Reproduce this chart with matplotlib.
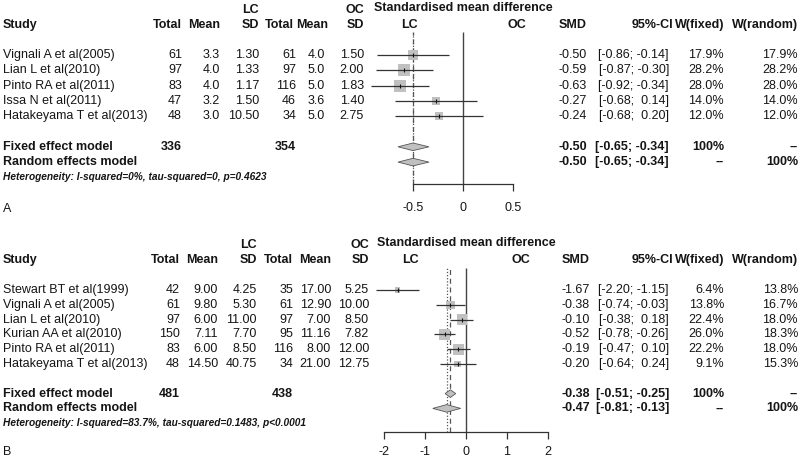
import numpy as np
import matplotlib
matplotlib.use("Agg")
import matplotlib.pyplot as plt

plt.rcParams["font.family"] = ["Liberation Sans", "DejaVu Sans"]

W, H = 800, 459
INK = "#151515"
GREY = "#c0c0c0"

# ---- panel A
a_study = ["Vignali A et al(2005)", "Lian L et al(2010)", "Pinto RA et al(2011)",
           "Issa N et al(2011)", "Hatakeyama T et al(2013)"]
a_lc_n = [61, 97, 83, 47, 48]
a_lc_mean = [3.3, 4.0, 4.0, 3.2, 3.0]
a_lc_sd = [1.30, 1.33, 1.17, 1.50, 10.50]
a_oc_n = [61, 97, 116, 46, 34]
a_oc_mean = [4.0, 5.0, 5.0, 3.6, 5.0]
a_oc_sd = [1.50, 2.00, 1.83, 1.40, 2.75]
a_smd = [-0.50, -0.59, -0.63, -0.27, -0.24]
a_lo = [-0.86, -0.87, -0.92, -0.68, -0.68]
a_hi = [-0.14, -0.30, -0.34, 0.14, 0.20]
a_wfix = [17.9, 28.2, 28.0, 14.0, 12.0]
a_wran = [17.9, 28.2, 28.0, 14.0, 12.0]
a_totals = [336, 354]
a_fixed = [-0.50, -0.65, -0.34]
a_random = [-0.50, -0.65, -0.34]
a_ticks = [-0.5, 0, 0.5]
a_het = "Heterogeneity: I-squared=0%, tau-squared=0, p=0.4623"

# ---- panel B
b_study = ["Stewart BT et al(1999)", "Vignali A et al(2005)", "Lian L et al(2010)",
           "Kurian AA et al(2010)", "Pinto RA et al(2011)", "Hatakeyama T et al(2013)"]
b_lc_n = [42, 61, 97, 150, 83, 48]
b_lc_mean = [9.00, 9.80, 6.00, 7.11, 6.00, 14.50]
b_lc_sd = [4.25, 5.30, 11.00, 7.70, 8.50, 40.75]
b_oc_n = [35, 61, 97, 95, 116, 34]
b_oc_mean = [17.00, 12.90, 7.00, 11.16, 8.00, 21.00]
b_oc_sd = [5.25, 10.00, 8.50, 7.82, 12.00, 12.75]
b_smd = [-1.67, -0.38, -0.10, -0.52, -0.19, -0.20]
b_lo = [-2.20, -0.74, -0.38, -0.78, -0.47, -0.64]
b_hi = [-1.15, -0.03, 0.18, -0.26, 0.10, 0.24]
b_wfix = [6.4, 13.8, 22.4, 26.0, 22.2, 9.1]
b_wran = [13.8, 16.7, 18.0, 18.3, 18.0, 15.3]
b_totals = [481, 438]
b_fixed = [-0.38, -0.51, -0.25]
b_random = [-0.47, -0.81, -0.13]
b_ticks = [-2, -1, 0, 1, 2]
b_het = "Heterogeneity: I-squared=83.7%, tau-squared=0.1483, p<0.0001"

fig = plt.figure(figsize=(W / 100, H / 100), dpi=100)
bg = fig.add_axes([0, 0, 1, 1])
bg.set_xlim(0, W)
bg.set_ylim(H, 0)
bg.axis("off")


def txt(x, y, s, ha="right", bold=False, **kw):
    bg.text(x, y, s, ha=ha, va="center", fontsize=9, color=INK,
            fontweight="bold" if bold else "normal", **kw)


def ci(lo, hi):
    return f"[{lo:5.2f}; {hi:5.2f}]"


def panel(d, lay):
    y0, dy = lay["row0"], lay["dy"]
    c = lay["cols"]
    hc = dict(c, **lay.get("head_cols", {}))
    n = len(d["study"])
    ry = lambda r: y0 + r * dy

    # header
    h1, h2 = lay["head"]
    txt(hc["lc_sd"], h1, "LC", bold=True)
    txt(hc["oc_sd"], h1, "OC", bold=True)
    txt(lay["zero"], h1 - 2, "Standardised mean difference", ha="center", bold=True)
    txt(3, h2, "Study", ha="left", bold=True)
    for k, lab in [("lc_n", "Total"), ("lc_mean", "Mean"), ("lc_sd", "SD"),
                   ("oc_n", "Total"), ("oc_mean", "Mean"), ("oc_sd", "SD"),
                   ("smd", "SMD"), ("ci_h", "95%-CI"), ("wf", "W(fixed)"),
                   ("wr", "W(random)")]:
        txt(hc[k], h2, lab, bold=True)
    txt(lay["zero"] - 0.5 * lay["ppu"] * lay["lc_oc"], h2, "LC", ha="center", bold=True)
    txt(lay["zero"] + 0.5 * lay["ppu"] * lay["lc_oc"], h2, "OC", ha="center", bold=True)

    mf, sf = lay["fmt"]
    for i in range(n):
        y = ry(i)
        txt(3, y, d["study"][i], ha="left")
        txt(c["lc_n"], y, str(d["lc_n"][i]))
        txt(c["lc_mean"], y, f"{d['lc_mean'][i]:{mf}}")
        txt(c["lc_sd"], y, f"{d['lc_sd'][i]:{sf}}")
        txt(c["oc_n"], y, str(d["oc_n"][i]))
        txt(c["oc_mean"], y, f"{d['oc_mean'][i]:{mf}}")
        txt(c["oc_sd"], y, f"{d['oc_sd'][i]:{sf}}")
        txt(c["smd"], y, f"{d['smd'][i]:.2f}")
        txt(c["ci"], y, ci(d["lo"][i], d["hi"][i]))
        txt(c["wf"], y, f"{d['wfix'][i]:.1f}%")
        txt(c["wr"], y, f"{d['wran'][i]:.1f}%")

    yf, yr = ry(n + 1), ry(n + 2)
    txt(3, yf, "Fixed effect model", ha="left", bold=True)
    txt(c["lc_n"], yf, str(d["totals"][0]), bold=True)
    txt(c["oc_n"], yf, str(d["totals"][1]), bold=True)
    txt(c["smd"], yf, f"{d['fixed'][0]:.2f}", bold=True)
    txt(c["ci"], yf, ci(*d["fixed"][1:]), bold=True)
    txt(c["wf"], yf, "100%", bold=True)
    txt(c["wr"], yf, "--", bold=True)
    txt(3, yr, "Random effects model", ha="left", bold=True)
    txt(c["smd"], yr, f"{d['random'][0]:.2f}", bold=True)
    txt(c["ci"], yr, ci(*d["random"][1:]), bold=True)
    txt(c["wf"], yr, "--", bold=True)
    txt(c["wr"], yr, "100%", bold=True)
    bg.text(3, ry(n + 3), d["het"], ha="left", va="center", fontsize=7.3,
            fontweight="bold", fontstyle="italic", color=INK)
    txt(3, lay["letter"], lay["name"], ha="left")

    # forest plot axes, placed so that its scale matches the pixel layout
    x0, x1 = lay["xlim"]
    left = lay["zero"] + x0 * lay["ppu"]
    width = (x1 - x0) * lay["ppu"]
    top = ry(-2)
    bottom = lay["axis"]
    ax = fig.add_axes([left / W, 1 - bottom / H, width / W, (bottom - top) / H])
    ax.patch.set_alpha(0)
    ax.set_xlim(x0, x1)
    r_axis = (bottom - y0) / dy
    ax.set_ylim(r_axis, -2)
    for s in ["top", "left", "right"]:
        ax.spines[s].set_visible(False)
    ax.spines["bottom"].set_bounds(d["ticks"][0], d["ticks"][-1])
    ax.spines["bottom"].set_color("#333333")
    ax.spines["bottom"].set_linewidth(0.9)
    ax.set_yticks([])
    ax.set_xticks(d["ticks"])
    ax.set_xticklabels([f"{t:g}" for t in d["ticks"]])
    ax.tick_params(axis="x", direction="out", length=5, width=0.9, color="#333333",
                   labelsize=9, labelcolor=INK, pad=lay["pad"])

    rows = np.arange(n)
    ax.vlines(0, r_axis, -1.5, color="#444444", lw=1.0)
    ax.vlines(d["fixed"][0], r_axis, -1.5, color="#555555", lw=0.9,
              linestyles=(0, (4, 3)))
    ax.vlines(d["random"][0], r_axis, -1.5, color="#555555", lw=0.9,
              linestyles=(0, (1, 1.5)))
    side_px = 2.27 * np.sqrt(np.array(d["wfix"]))
    ax.scatter(d["smd"], rows, marker="s", s=(side_px * 0.72) ** 2, color=GREY,
               linewidths=0, zorder=2)
    ax.hlines(rows, d["lo"], d["hi"], color="#333333", lw=0.9, zorder=3)
    ax.scatter(d["smd"], rows, marker="|", s=10, color="#111111", lw=0.8, zorder=4)
    h = 3.8 / dy
    for r, (est, lo, hi) in [(n + 1, d["fixed"]), (n + 2, d["random"])]:
        ax.fill([lo, est, hi, est], [r, r - h, r, r + h], facecolor=GREY,
                edgecolor="#555555", lw=0.6, zorder=3)


panel(dict(study=a_study, lc_n=a_lc_n, lc_mean=a_lc_mean, lc_sd=a_lc_sd,
           oc_n=a_oc_n, oc_mean=a_oc_mean, oc_sd=a_oc_sd, smd=a_smd, lo=a_lo,
           hi=a_hi, wfix=a_wfix, wran=a_wran, totals=a_totals, fixed=a_fixed,
           random=a_random, ticks=a_ticks, het=a_het),
      dict(row0=55, dy=15.3, head=(10, 25), axis=184, zero=463, ppu=100,
           xlim=(-1.0, 1.0), lc_oc=1.08, fmt=(".1f", ".2f"), letter=209, name="A",
           pad=8,
           cols=dict(lc_n=182, lc_mean=220, lc_sd=259, oc_n=296, oc_mean=325,
                     oc_sd=364, smd=587, ci=669, ci_h=673, wf=724, wr=798),
           head_cols=dict(oc_n=294, oc_mean=328)))

panel(dict(study=b_study, lc_n=b_lc_n, lc_mean=b_lc_mean, lc_sd=b_lc_sd,
           oc_n=b_oc_n, oc_mean=b_oc_mean, oc_sd=b_oc_sd, smd=b_smd, lo=b_lo,
           hi=b_hi, wfix=b_wfix, wran=b_wran, totals=b_totals, fixed=b_fixed,
           random=b_random, ticks=b_ticks, het=b_het),
      dict(row0=290, dy=14.8, head=(245, 260), axis=432, zero=466, ppu=41,
           xlim=(-2.5, 2.5), lc_oc=2.7, fmt=(".2f", ".2f"), letter=452, name="B",
           pad=5,
           cols=dict(lc_n=180, lc_mean=218, lc_sd=257, oc_n=293, oc_mean=331,
                     oc_sd=369, smd=590, ci=669, ci_h=673, wf=724, wr=798)))

fig.savefig("out.png", dpi=100)
